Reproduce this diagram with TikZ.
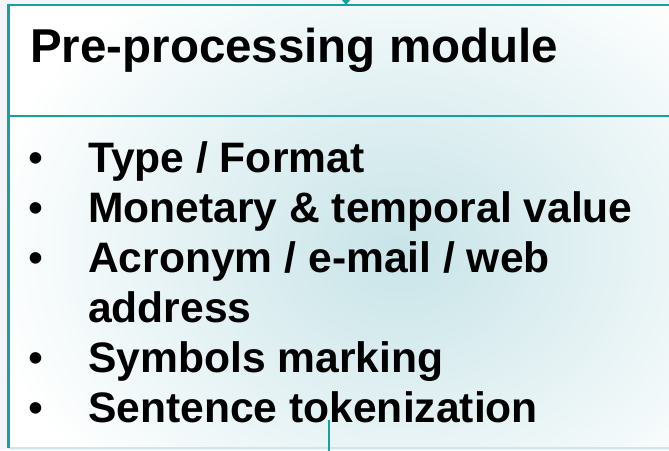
\documentclass[tikz,border=0pt]{standalone}
\usepackage{fontspec}
\setmainfont{Liberation Sans}
\usetikzlibrary{arrows.meta}
\definecolor{frame}{HTML}{17A0A0}
\definecolor{bgout}{HTML}{F4F4FA}
\definecolor{tealglow}{HTML}{C8E4E8}
\definecolor{edge}{HTML}{CFE6EA}
\begin{document}
\begin{tikzpicture}[x=1pt,y=-1pt,
  title/.style={anchor=base west,inner sep=0pt,font=\fontsize{47.5}{50}\selectfont\bfseries},
  item/.style={anchor=base west,inner sep=0pt,font=\fontsize{42.6}{50}\selectfont\bfseries},
  bul/.style={anchor=base west,inner sep=0pt,font=\fontsize{42.6}{50}\selectfont},
  conn/.style={draw=frame,line width=2.2pt}]
\useasboundingbox (0,0) rectangle (669,450);
\fill[bgout] (0,0) rectangle (669,450);
% box interior with glow
\begin{scope}
\clip (8.5,5) rectangle (680,448);
\fill[white] (8.5,5) rectangle (680,448);
\shade[inner color=tealglow,outer color=white] (400,250) ellipse (420 and 330);
\end{scope}
% box frame
\draw[edge,line width=1.5pt] (8.5,448) -- (680,448);
\draw[frame,line width=2.5pt] (680,5) -- (8.5,5) -- (8.5,448);
\draw[frame,line width=2.5pt] (8.5,116) -- (680,116);
\coordinate (boxtop) at (346,5);
\coordinate (above) at (346,-20);
\coordinate (low) at (329,420);
\coordinate (below) at (329,452);
\draw[conn,-{Triangle[length=7pt,width=11pt]}] (above) -- (boxtop);
\draw[conn,line width=1.8pt] (low) -- (below);
% texts
\node[title] (t) at (30,62) {Pre-processing module};
\node[bul] (b1) at (28,172) {•};
\node[item] (i1) at (88,172) {Type / Format};
\node[bul] (b2) at (28,222) {•};
\node[item] (i2) at (88,222) {Monetary \& temporal value};
\node[bul] (b3) at (28,272) {•};
\node[item] (i3) at (88,272) {Acronym / e-mail / web};
\node[item] (i3b) at (88,322) {address};
\node[bul] (b4) at (28,372) {•};
\node[item] (i4) at (88,372) {Symbols marking};
\node[bul] (b5) at (28,422) {•};
\node[item] (i5) at (88,422) {Sentence tokenization};
\end{tikzpicture}
\end{document}
